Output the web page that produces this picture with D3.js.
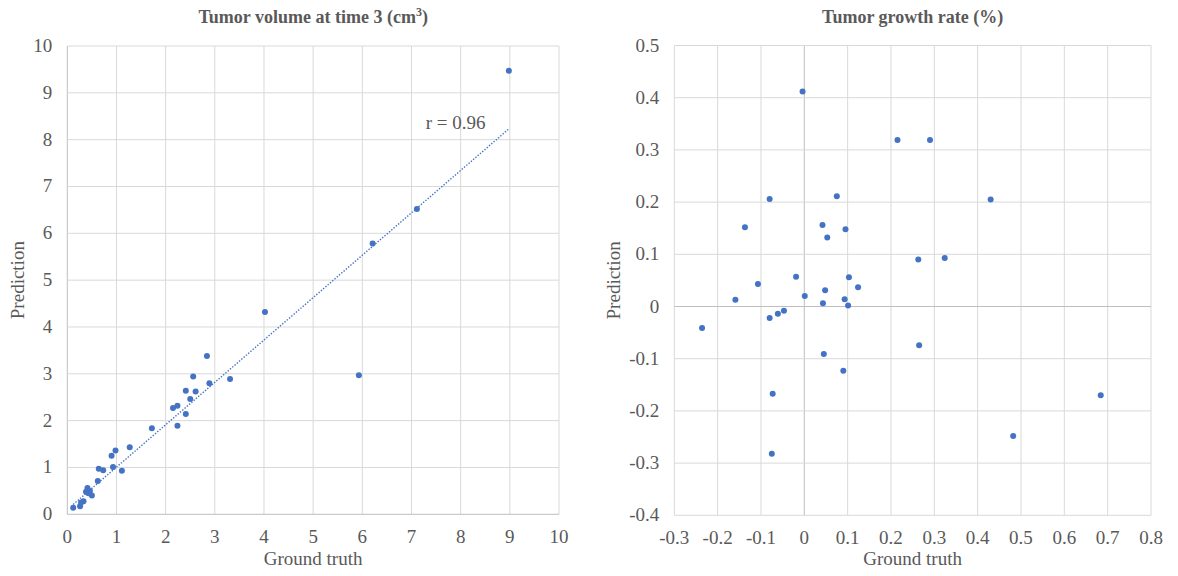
<!DOCTYPE html>
<html><head><meta charset="utf-8">
<script src="https://cdn.jsdelivr.net/npm/d3@7"></script>
<style>
body{margin:0;background:#fff;}
svg text{font-family:"Liberation Serif","Times New Roman",serif;fill:#595959;}
</style></head>
<body><svg id="c" width="1178" height="576" font-family="Liberation Serif, Times New Roman, serif"></svg>
<script>
// Left chart: Tumor volume at time 3
const volTruth = [0.12,0.26,0.28,0.33,0.41,0.38,0.46,0.50,0.43,0.62,0.64,0.73,0.93,0.90,0.98,1.11,1.27,1.72,2.24,2.15,2.24,2.41,2.50,2.41,2.61,2.56,2.89,2.84,3.31,4.02,5.93,6.21,7.11,8.98];
const volPred  = [0.14,0.17,0.25,0.28,0.56,0.48,0.50,0.40,0.45,0.71,0.97,0.94,1.01,1.25,1.36,0.93,1.43,1.84,1.89,2.27,2.32,2.14,2.46,2.64,2.62,2.94,2.80,3.38,2.89,4.32,2.97,5.78,6.52,9.47];
const volTicks = [0,1,2,3,4,5,6,7,8,9,10];
// trendline end points (ground truth, prediction)
const trendTruth = [0.12, 8.98];
const trendPred  = [0.21, 8.23];
const volR = "r = 0.96";

// Right chart: Tumor growth rate
const rateTruth = [-0.004,0.215,0.290,-0.080,0.075,-0.137,0.042,0.095,0.053,0.263,-0.019,-0.107,0.103,0.124,0.048,0.001,-0.159,0.093,0.043,0.101,-0.080,-0.061,-0.047,-0.236,0.045,0.090,-0.073,-0.075,0.265,0.430,0.324,0.684,0.482];
const ratePred  = [0.412,0.319,0.319,0.206,0.211,0.152,0.156,0.148,0.132,0.090,0.057,0.043,0.056,0.037,0.031,0.020,0.013,0.014,0.006,0.002,-0.022,-0.014,-0.008,-0.041,-0.091,-0.123,-0.167,-0.282,-0.074,0.205,0.093,-0.170,-0.248];
const rateXTicks = [-0.3,-0.2,-0.1,0,0.1,0.2,0.3,0.4,0.5,0.6,0.7,0.8];
const rateYTicks = [-0.4,-0.3,-0.2,-0.1,0,0.1,0.2,0.3,0.4,0.5];

const svg = d3.select("#c");
const grid = "#d9d9d9", axisC = "#bfbfbf", dot = "#4472C4";
const FF = "Liberation Serif, Times New Roman, serif";
const fmt = d => String(+d.toFixed(1));

function panel(o){
  const g = svg.append("g").attr("font-family",FF);
  const x = d3.scaleLinear().domain(o.xd).range([o.l,o.r]);
  const y = d3.scaleLinear().domain(o.yd).range([o.b,o.t]);
  g.selectAll(".vx").data(o.xt).enter().append("line")
    .attr("x1",d=>x(d)).attr("x2",d=>x(d)).attr("y1",o.t).attr("y2",o.b)
    .attr("stroke",d=>d===0?axisC:grid).attr("stroke-width",1);
  g.selectAll(".hy").data(o.yt).enter().append("line")
    .attr("y1",d=>y(d)).attr("y2",d=>y(d)).attr("x1",o.l).attr("x2",o.r)
    .attr("stroke",d=>d===0?axisC:grid).attr("stroke-width",1);
  g.selectAll(".xl").data(o.xt).enter().append("text")
    .attr("font-family",FF)
    .attr("x",d=>x(d)).attr("y",o.b+29).attr("text-anchor","middle")
    .attr("font-size",19).text(fmt);
  g.selectAll(".yl").data(o.yt).enter().append("text")
    .attr("font-family",FF)
    .attr("x",o.l-15).attr("y",d=>y(d)+6).attr("text-anchor","end")
    .attr("font-size",19).text(fmt);
  const cx=(o.l+o.r)/2;
  g.append("text").attr("font-family",FF).attr("x",cx).attr("y",23).attr("text-anchor","middle")
    .attr("font-size",18).attr("font-weight","bold").html(o.title);
  g.append("text").attr("font-family",FF).attr("x",cx).attr("y",565).attr("text-anchor","middle")
    .attr("font-size",19).text("Ground truth");
  g.append("text").attr("font-family",FF).attr("transform",`translate(${o.yl},${(o.t+o.b)/2}) rotate(-90)`)
    .attr("text-anchor","middle").attr("font-size",19).text("Prediction");
  return {g,x,y};
}

// Left
const L = panel({l:67.3,r:559,t:46,b:514.3,xd:[0,10],yd:[0,10],xt:volTicks,yt:volTicks,
  title:'Tumor volume at time 3 (cm<tspan dy="-7" font-size="12">3</tspan><tspan dy="7">)</tspan>',yl:24});
L.g.append("line").attr("x1",L.x(trendTruth[0])).attr("y1",L.y(trendPred[0]))
  .attr("x2",L.x(trendTruth[1])).attr("y2",L.y(trendPred[1]))
  .attr("stroke",dot).attr("stroke-width",1.4).attr("stroke-dasharray","1.4,1.6");
L.g.selectAll(".d").data(volTruth).enter().append("circle")
  .attr("cx",d=>L.x(d)).attr("cy",(d,i)=>L.y(volPred[i])).attr("r",3).attr("fill",dot);
L.g.append("text").attr("font-family",FF).attr("x",L.x(7.29)).attr("y",L.y(8.23))
  .attr("font-size",19).attr("text-anchor","start").text(volR);

// Right
const R = panel({l:674.3,r:1151,t:45.5,b:515.3,xd:[-0.3,0.8],yd:[-0.4,0.5],xt:rateXTicks,yt:rateYTicks,
  title:'Tumor growth rate (%)',yl:620});
R.g.selectAll(".d").data(rateTruth).enter().append("circle")
  .attr("cx",d=>R.x(d)).attr("cy",(d,i)=>R.y(ratePred[i])).attr("r",3).attr("fill",dot);
</script></body></html>
